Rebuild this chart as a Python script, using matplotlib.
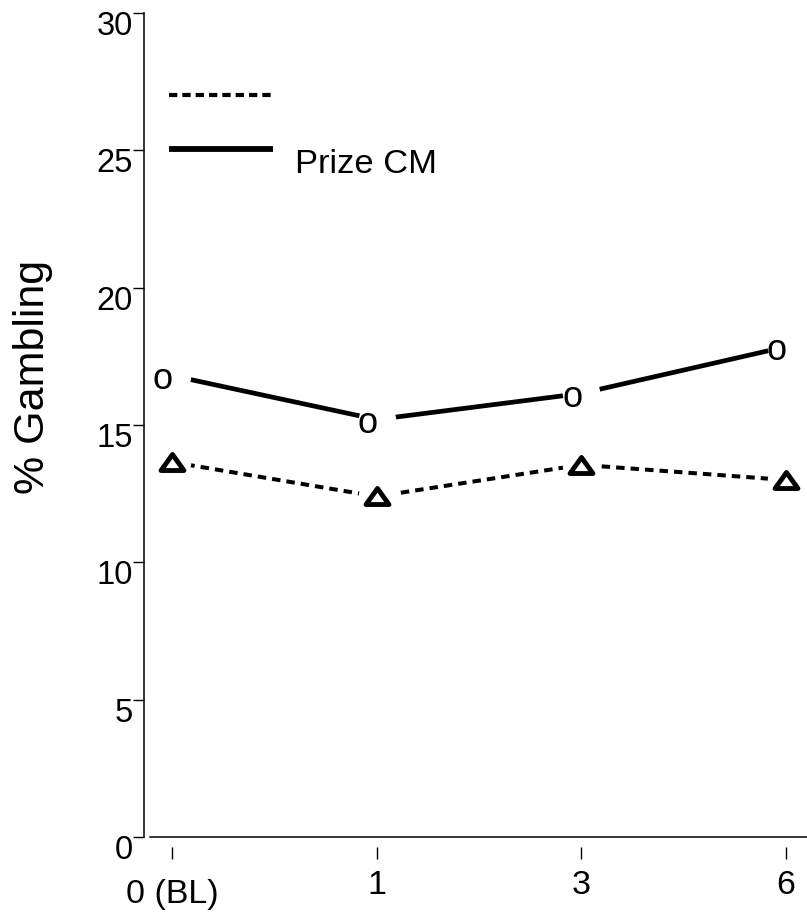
"""
Percentage gambling across follow-up visits, Prize CM vs comparison arm.
"""

import matplotlib
matplotlib.use("Agg")
import matplotlib.pyplot as plt
import matplotlib.transforms as mtransforms
from matplotlib.lines import Line2D
from matplotlib.path import Path
import numpy as np


# Data
visitLabels = ["0 (BL)", "1", "3", "6"]
prizeCM = [16.8, 15.2, 16.15, 17.85]
comparison = [13.65, 12.4, 13.55, 13.0]
yTicks = [0, 5, 10, 15, 20, 25, 30]
legendLabels = ["", "Prize CM"]


def _shift(fig, dx_px, dy_px):
    """Returns a translation in pixels (at dpi 100)."""
    return mtransforms.ScaledTranslation(dx_px / 100, dy_px / 100,
                                         fig.dpi_scale_trans)


def plotGambling():
    """
    Plots both study arms with text style 'o' and triangle markers.
    """
    plt.rcParams["font.family"] = ["Liberation Sans", "DejaVu Sans"]

    fig = plt.figure(figsize=(8.07, 9.16), dpi=100)
    ax = fig.add_axes([0.1784, 0.0862, 0.8216, 0.8996])

    x = np.arange(len(visitLabels))

    # Lines first, then white discs to open a gap around every point
    ax.plot(x, prizeCM, color="black", lw=3.4, solid_capstyle="butt", zorder=2)
    ax.plot(x, comparison, color="black", lw=2.9, linestyle=(0, (2.1, 1.5)),
            dash_capstyle="butt", zorder=2)
    ax.plot(x, prizeCM, linestyle="none", marker="o", ms=27,
            mfc="white", mec="none", zorder=3, clip_on=False)
    ax.plot(x, comparison, linestyle="none", marker="o", ms=27,
            mfc="white", mec="none", zorder=3, clip_on=False)

    # Flattened hollow triangles
    tri = Path([(-1, -0.7), (1, -0.7), (0, 0.7), (-1, -0.7)],
               [Path.MOVETO, Path.LINETO, Path.LINETO, Path.CLOSEPOLY])
    ax.plot(x, comparison, linestyle="none", marker=tri, ms=16.5,
            mfc="white", mec="black", mew=3.5, zorder=4, clip_on=False)

    # Letter 'o' used as the marker for Prize CM
    for xi, yi in zip(x, prizeCM):
        ax.annotate("o", (xi, yi), xytext=(-6.5, -3),
                    textcoords="offset points", ha="center", va="center",
                    fontsize=26, zorder=4, annotation_clip=False)

    # Axis limits and spines
    ax.set_xlim(-0.137, 3.103)
    ax.set_ylim(0, 30)
    ax.spines["top"].set_visible(False)
    ax.spines["right"].set_visible(False)
    ax.spines["left"].set_linewidth(1.1)
    ax.spines["bottom"].set_position(("outward", 7.2))
    ax.spines["bottom"].set_color("none")
    ax.axhline(0, xmin=0.009, xmax=1, color="black", lw=1.1, clip_on=False)

    ax.set_yticks(yTicks)
    ax.set_yticklabels([str(t) for t in yTicks])
    ax.set_xticks(x)
    ax.set_xticklabels(visitLabels)
    ax.tick_params(axis="y", direction="out", length=8, width=1.0,
                   pad=0, labelsize=23.5)
    ax.tick_params(axis="x", direction="out", length=8.5, width=1.0,
                   pad=8, labelsize=24.5)

    # Labels sit a little below their ticks in the original
    for lab in ax.get_yticklabels():
        lab.set_transform(lab.get_transform() + _shift(fig, 0, -10))
    first = ax.get_xticklabels()[0]
    first.set_transform(first.get_transform() + _shift(fig, 0, -9))

    ax.set_ylabel("% Gambling", fontsize=31)
    ax.yaxis.set_label_coords(-0.137, 0.558)

    # Legend: the dashed entry has no label
    handles = [Line2D([], [], color="black", lw=3, linestyle=(0, (2.0, 1.2)),
                      dash_capstyle="butt"),
               Line2D([], [], color="black", lw=4.2, solid_capstyle="butt")]
    leg = ax.legend(handles, legendLabels, loc="upper left",
                    bbox_to_anchor=(0.0377, 0.917), frameon=False,
                    fontsize=24.8, borderpad=0, borderaxespad=0,
                    handlelength=3.02, handletextpad=0.64, labelspacing=0.57,
                    handleheight=1.0)
    for t in leg.get_texts():
        t.set_transform(t.get_transform() + _shift(fig, 0, -11))

    fig.savefig("out.png", dpi=100)


def main():
    plotGambling()


if __name__ == "__main__":
    main()
